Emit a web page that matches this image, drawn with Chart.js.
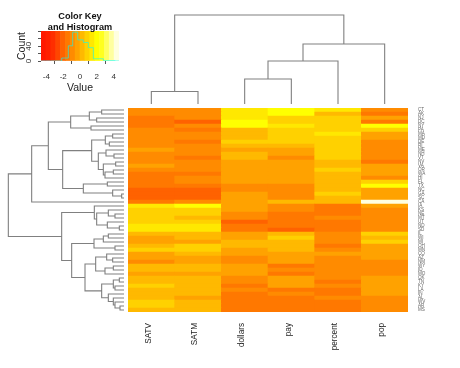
<!DOCTYPE html>
<html><head><meta charset="utf-8">
<style>html,body{margin:0;padding:0;background:#fff}canvas{position:absolute;left:0;top:0}</style>
<script src="https://cdn.jsdelivr.net/npm/chart.js@4"></script>
</head><body>
<canvas id="key" width="460" height="368"></canvas>
<canvas id="keyTitle" width="460" height="368"></canvas>
<canvas id="heat" width="460" height="368"></canvas>
<canvas id="colDendro" width="460" height="368"></canvas>
<canvas id="rowDendro" width="460" height="368"></canvas>
<script>
const columns = ["SATV","SATM","dollars","pay","percent","pop"];
const rowLabels = ["CT","AK","NJ","DC","NY","PA","MA","MD","DE","RI","ME","NH","VT","NV","VA","OR","WA","HI","FL","TX","NC","GA","SC","CA","IA","KS","NE","MT","UT","ND","SD","IL","WI","MI","OH","MN","CO","AZ","NM","WY","ID","MO","OK","TN","KY","LA","IN","AL","WV","AR","MS"];
const SATV = [-.9,-.9,-1.5,-1.5,-1.5,-.9,-.9,-.9,-.9,-.9,-.3,-.9,-.9,-.9,-.3,-.9,-1.5,-1.5,-1.5,-1.5,-2,-2,-2,-1.5,1.5,.9,.9,.9,.9,1.5,1.5,.3,-.3,-.3,.3,.9,-.3,-.3,-.9,.3,.3,-.3,.3,.3,.9,.3,.3,.3,.9,.9,.3];
const SATM = [-.9,-.9,-.9,-2,-.9,-1.5,-.9,-.9,-1.5,-.9,-.9,-.9,-1.5,-.9,-.9,-.9,-1.5,-.9,-.9,-1.5,-2,-2,-2,-.9,2,.9,.9,.3,.9,1.5,1.5,.3,.3,-.3,.9,.9,.3,-.3,-.3,.3,.3,-.3,.3,.3,.3,.3,.3,-.3,.3,.3,.3];
const dollars = [1.5,1.5,1.5,2,2,.3,.3,.3,.9,.3,-.3,.3,.3,-.3,-.3,-.3,-.3,-.3,-.3,-.9,-.9,-.3,-.3,-.3,-.3,-.3,-.9,-.9,-2,-1.5,-1.5,-.3,-.3,.3,.3,-.3,-.3,-.9,-.9,-.3,-.3,-.3,-.9,-.9,-1.5,-.9,-1.5,-1.5,-1.5,-1.5,-1.5];
const pay = [2,2,.9,.9,1.5,.9,.9,.9,.9,.3,-.3,-.3,-.9,-.3,-.3,-.3,-.3,-.3,-.3,-.9,-.9,-.9,-.9,.3,-.9,-.9,-1.5,-1.5,-1.5,-1.5,-2,.3,.9,.3,.3,.3,-.3,-.3,-.3,-1.5,-.9,-1.5,-.3,-.3,-.3,-1.5,-.9,-1.5,-1.5,-1.5,-1.5];
const percent = [1.5,.3,.9,.9,.9,.9,1.5,.9,.9,.9,.9,.9,.9,.3,.3,.9,.3,.3,.3,.3,.3,.9,.3,.3,-1.5,-1.5,-1.5,-.9,-1.5,-1.5,-1.5,-.9,-.9,-.9,-1.5,-.9,-.3,-.9,-.9,-.9,-.9,-.9,-.9,-1.5,-.9,-1.5,-1.5,-.9,-1.5,-1.5,-1.5];
const pop = [-.9,-1.5,-.3,-1.5,2,.9,-.3,-.3,-.9,-.9,-.9,-.9,-.9,-1.5,-.3,-.3,-.3,-.9,.9,2,-.3,-.3,-.3,4.3,-.3,-.9,-.9,-.9,-.9,-.9,-.9,.9,.3,.9,-.3,-.3,-.3,-.3,-.9,-.9,-.9,-.9,-.3,-.3,-.3,-.3,-.3,-.9,-.9,-.9,-.9];
const palette = ["#ff1800","#ff2000","#ff2e00","#ff4600","#ff6200","#ff7800","#ff8b00","#ffa200","#ffb900","#ffd100","#ffe800","#ffff00","#ffff20","#ffff60","#ffff9f","#ffffdf"];
const keyCentres = [-4.35,-3.77,-3.19,-2.61,-2.03,-1.45,-.87,-.29,.29,.87,1.45,2.03,2.61,3.19,3.77,4.35];
const keyTicks = [-4,-2,0,2,4];
const countTicks = [0,20,40,60,80];
const histEdges = [-4.64,-2.18,-1.39,-.87,-.27,.40,.99,1.59,2.78,4.17,4.64];
const histCounts = [0,8,41,78,57,50,36,6,1,0,0];
// dendrograms: [height, left, right], integers are leaves
const colTree = [89,[12.5,0,1],[60,[43,[25,2,3],4],5]];
const rowTree = [347,
  [277,[227,[160,[104,[67,0,1],[82,2,3]],[99,4,5]],
    [184,[97,[56,[34,6,7],[44,8,9]],[77,[54,10,[30,11,12]],[62,[25,13,14],[57,[32,15,16],17]]]],
         [122,[50,18,19],[34,20,[7,21,22]]]]],23],
  [187,[89,24,[82,[47,25,[27,26,27]],[50,28,[14,29,30]]]],
    [157,[90,[62,[47,31,32],33],[27,34,35]],
      [117,[85,[52,36,[34,37,38]],[57,[32,39,40],41]],
           [67,[32,[14,42,43],[27,44,45]],[47,46,[32,47,[27,48,[12,49,50]]]]]]]]];

const seriesByCol = [SATV,SATM,dollars,pay,percent,pop];
const base = {responsive:false,animation:false,events:[],plugins:{legend:{display:false},tooltip:{enabled:false}}};
const keyMin=-4.64,keyMax=4.64,bin=(keyMax-keyMin)/palette.length;
const colorOf=v=>palette[Math.min(palette.length-1,Math.max(0,Math.floor((v-keyMin)/bin)))];

// heat map: six stacked columns, one dataset per state, bottom row first
const heatSets=[];
for(let r=rowLabels.length-1;r>=0;r--){
  heatSets.push({data:columns.map(()=>1),backgroundColor:seriesByCol.map(s=>colorOf(s[r])),borderWidth:0,barPercentage:1,categoryPercentage:1});
}
new Chart(document.getElementById('heat'),{type:'bar',data:{labels:columns,datasets:heatSets},options:{...base,
  layout:{padding:{left:128,top:108,right:0,bottom:0}},
  scales:{
    x:{stacked:true,grid:{display:false,drawTicks:false},border:{display:false},
       afterFit:s=>{s.height=56},
       ticks:{autoSkip:false,minRotation:90,maxRotation:90,padding:11,labelOffset:-3,color:'#222',font:{family:'Liberation Sans',size:8.2}}},
    y:{stacked:true,position:'right',min:0,max:rowLabels.length,grid:{display:false,drawTicks:false},border:{display:false},
       afterFit:s=>{s.width=52},
       afterBuildTicks:a=>{a.ticks=rowLabels.map((_,i)=>({value:rowLabels.length-i-.5}))},
       ticks:{autoSkip:false,padding:10,color:'#666',font:{family:'Liberation Sans',size:4.6},
              callback:v=>rowLabels[Math.round(rowLabels.length-.5-v)]}}
  }}});

// turn a nested tree into one polyline with gaps
function treePath(tree,toPoint){
  const pts=[];
  const walk=n=>{
    if(typeof n==='number')return {p:n,h:0};
    const a=walk(n[1]),b=walk(n[2]),h=n[0];
    pts.push(toPoint(a.p,a.h),toPoint(a.p,h),toPoint(b.p,h),toPoint(b.p,b.h),{x:null,y:null});
    return {p:(a.p+b.p)/2,h};
  };
  walk(tree);return pts;
}
const lineSet=d=>({data:d,showLine:true,spanGaps:false,pointRadius:0,borderColor:'#808080',borderWidth:1.1,clip:false});
const hidden={display:false};

new Chart(document.getElementById('colDendro'),{type:'scatter',
  data:{datasets:[lineSet(treePath(colTree,(p,h)=>({x:p+.5,y:h})))]},
  options:{...base,layout:{padding:{left:128,right:52,top:15,bottom:264}},
    scales:{x:{...hidden,type:'linear',min:0,max:columns.length},y:{...hidden,min:0,max:89}}}});

new Chart(document.getElementById('rowDendro'),{type:'scatter',
  data:{datasets:[lineSet(treePath(rowTree,(p,h)=>({x:h,y:p+.5})))]},
  options:{...base,layout:{padding:{left:0,right:336,top:108,bottom:56}},
    scales:{x:{...hidden,type:'linear',reverse:true,min:0,max:372},y:{...hidden,reverse:true,min:0,max:rowLabels.length}}}});

// colour key with histogram
new Chart(document.getElementById('key'),{type:'bar',
  data:{datasets:[
    {type:'line',order:0,data:histEdges.map((x,i)=>({x,y:histCounts[i]})),stepped:'before',borderColor:'rgba(0,255,255,.6)',borderWidth:1,pointRadius:0},
    {type:'bar',order:1,data:keyCentres.map(x=>({x,y:81})),backgroundColor:palette,borderWidth:0,barPercentage:1,categoryPercentage:1}
  ]},
  options:{...base,layout:{padding:{left:0,right:341,top:31,bottom:274}},
    scales:{
      x:{type:'linear',offset:false,min:keyMin,max:keyMax,grid:{display:true,drawOnChartArea:false,tickLength:3,color:'#555'},border:{display:false},
         afterFit:s=>{s.height=33},
         afterBuildTicks:a=>{a.ticks=keyTicks.map(value=>({value}))},
         ticks:{padding:8,color:'#333',maxRotation:0,font:{family:'Liberation Sans',size:8}},
         title:{display:true,text:'Value',color:'#222',padding:{top:0,bottom:0},font:{family:'Liberation Sans',size:10.5}}},
      y:{min:0,max:81,grid:{display:true,drawOnChartArea:false,tickLength:3,color:'#555'},border:{display:false},
         afterFit:s=>{s.width=41},
         afterBuildTicks:a=>{a.ticks=countTicks.map(value=>({value}))},
         ticks:{minRotation:90,maxRotation:90,crossAlign:'center',padding:5,color:'#333',autoSkip:false,font:{family:'Liberation Sans',size:8},
                callback:v=>(v===0||v===40)?String(v):''},
         title:{display:true,text:'Count',color:'#222',padding:{top:16,bottom:0},font:{family:'Liberation Sans',size:10.5}}}
    }}});

new Chart(document.getElementById('keyTitle'),{type:'bar',data:{labels:[],datasets:[]},
  options:{...base,layout:{padding:{left:0,right:300,top:10,bottom:0}},
    scales:{x:hidden,y:hidden},
    plugins:{...base.plugins,title:{display:true,text:['Color Key','and Histogram'],color:'#111',padding:0,
      font:{family:'Liberation Sans',size:9.2,weight:'bold',lineHeight:1.3}}}}});
</script>
</body></html>
